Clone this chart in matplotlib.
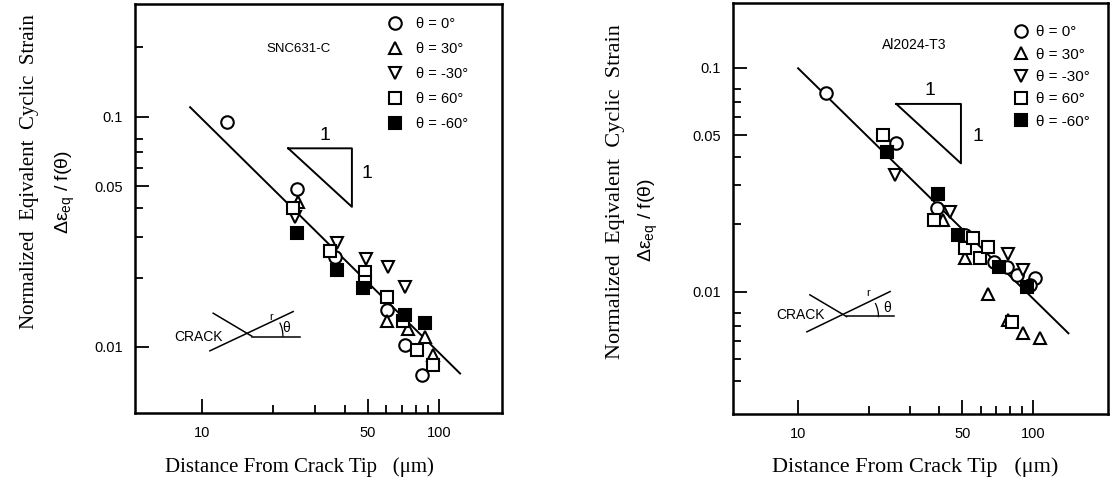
import numpy as np
import matplotlib
matplotlib.use('Agg')
import matplotlib.pyplot as plt
from matplotlib.ticker import FixedLocator, FixedFormatter, NullFormatter

# ---- SNC631-C ----
snc_x_0 = [12.7, 25.1, 36.4, 60.1, 71.9, 84.5]
snc_y_0 = [0.0946, 0.0483, 0.0246, 0.0145, 0.0102, 0.00753]
snc_x_p30 = [25.5, 60.1, 74.1, 87.3, 94.5]
snc_y_p30 = [0.0427, 0.0129, 0.0120, 0.0110, 0.0092]
snc_x_m30 = [24.7, 37.0, 49.2, 61.1, 71.9]
snc_y_m30 = [0.0366, 0.0282, 0.0242, 0.0223, 0.0182]
snc_x_p60 = [24.3, 34.7, 48.7, 48.7, 60.1, 70.6, 80.5, 94.5]
snc_y_p60 = [0.040, 0.0261, 0.0212, 0.0192, 0.0165, 0.0129, 0.0097, 0.0083]
snc_x_m60 = [25.1, 37.0, 47.9, 71.9, 87.3]
snc_y_m60 = [0.0311, 0.0215, 0.0180, 0.0137, 0.01265]
snc_fit_x = [8.9, 122.8]
snc_fit_y = [0.110, 0.00766]

# ---- Al2024-T3 ----
al_x_0 = [13.1, 26.1, 39.1, 51.5, 68.0, 77.4, 85.5, 102.4, 97.5]
al_y_0 = [0.0769, 0.0462, 0.0236, 0.0179, 0.0136, 0.0129, 0.0119, 0.0115, 0.0107]
al_x_p30 = [41.3, 51.5, 64.7, 78.7, 91.2, 107.4]
al_y_p30 = [0.0209, 0.0141, 0.0098, 0.00748, 0.00652, 0.0062]
al_x_m30 = [25.9, 44.5, 78.7, 91.2]
al_y_m30 = [0.0332, 0.0228, 0.0148, 0.0125]
al_x_p60 = [23.1, 37.8, 51.5, 55.8, 59.7, 64.7, 81.5]
al_y_p60 = [0.0501, 0.0209, 0.0156, 0.0173, 0.0141, 0.0159, 0.00734]
al_x_m60 = [23.9, 39.3, 48.2, 71.5, 94.2]
al_y_m60 = [0.0422, 0.0272, 0.0179, 0.0129, 0.0105]
al_fit_x = [10.0, 141.8]
al_fit_y = [0.0994, 0.00652]

labels = ['θ = 0°', 'θ = 30°', 'θ = -30°', 'θ = 60°', 'θ = -60°']
markers = ['o', '^', 'v', 's', 's']
faces = ['white', 'white', 'white', 'white', 'black']

x_major = [10, 50, 100]
x_minor = [20, 30, 40, 60, 70, 80, 90]
y_major = [0.01, 0.05, 0.1]
y_labels = ['0.01', '0.05', '0.1']

serif = ['Liberation Serif', 'DejaVu Serif']
sans = ['Liberation Sans', 'DejaVu Sans']
plt.rcParams['font.family'] = sans
plt.rcParams['mathtext.fontset'] = 'custom'
plt.rcParams['mathtext.rm'] = 'Liberation Sans'


def setup_axes(ax, xlim, ylim, y_minor):
    ax.set_xscale('log')
    ax.set_yscale('log')
    ax.set_xlim(*xlim)
    ax.set_ylim(*ylim)
    ax.xaxis.set_major_locator(FixedLocator(x_major))
    ax.xaxis.set_major_formatter(FixedFormatter([str(v) for v in x_major]))
    ax.xaxis.set_minor_locator(FixedLocator(x_minor))
    ax.xaxis.set_minor_formatter(NullFormatter())
    ax.yaxis.set_major_locator(FixedLocator(y_major))
    ax.yaxis.set_major_formatter(FixedFormatter(y_labels))
    ax.yaxis.set_minor_locator(FixedLocator(y_minor))
    ax.yaxis.set_minor_formatter(NullFormatter())
    ax.tick_params(which='both', direction='in', top=False, right=False,
                   width=1.3, labelsize=10.5, pad=9)
    ax.tick_params(which='major', length=10)
    ax.tick_params(which='minor', length=6)
    for s in ax.spines.values():
        s.set_linewidth(1.8)


def draw_panel(ax, xs, ys, fit_x, fit_y):
    ax.plot(fit_x, fit_y, color='black', lw=1.4, zorder=2)
    for x, y, m, fc, lab in zip(xs, ys, markers, faces, labels):
        ax.plot(x, y, linestyle='none', marker=m, ms=9, mfc=fc, mec='black',
                mew=1.5, label=lab, zorder=3)


def slope_triangle(ax, x0, x1, y0, y1, top_lab, side_lab):
    ax.plot([x0, x1, x1, x0], [y0, y0, y1, y0], color='black', lw=1.4)
    ax.text(top_lab[0], top_lab[1], '1', fontsize=14, ha='center', va='center')
    ax.text(side_lab[0], side_lab[1], '1', fontsize=14, ha='center', va='center')


def crack_sketch(ax, crack, ray, horiz, txt, r_pos, th_pos):
    t = ax.transAxes
    ax.plot(*zip(*crack), color='black', lw=1.1, transform=t)
    ax.plot(*zip(*ray), color='black', lw=1.1, transform=t)
    ax.plot(*zip(*horiz), color='black', lw=1.1, transform=t)
    # small angle arc at the tip
    tip = crack[1]
    ang = np.linspace(0, 25, 10) * np.pi / 180
    ax.plot(tip[0] + 0.085 * np.cos(ang), tip[1] + 0.075 * np.sin(ang),
            color='black', lw=0.9, transform=t)
    ax.text(txt[0], txt[1], 'CRACK', fontsize=10, ha='center', va='center', transform=t)
    ax.text(r_pos[0], r_pos[1], 'r', fontsize=8, ha='center', va='center', transform=t)
    ax.text(th_pos[0], th_pos[1], 'θ', fontsize=10, ha='center', va='center', transform=t)


fig = plt.figure(figsize=(11.15, 4.86), dpi=100)
ax1 = fig.add_axes([0.1211, 0.1502, 0.3291, 0.8416])
ax2 = fig.add_axes([0.6574, 0.1481, 0.3363, 0.8457])

setup_axes(ax1, (5.21, 184.5), (0.00516, 0.309),
           [0.02, 0.03, 0.04, 0.06, 0.07, 0.08, 0.2])
setup_axes(ax2, (5.28, 209), (0.002844, 0.1944),
           [0.004, 0.005, 0.006, 0.007, 0.008, 0.02, 0.03, 0.04, 0.06, 0.07, 0.08])

draw_panel(ax1, [snc_x_0, snc_x_p30, snc_x_m30, snc_x_p60, snc_x_m60],
           [snc_y_0, snc_y_p30, snc_y_m30, snc_y_p60, snc_y_m60], snc_fit_x, snc_fit_y)
draw_panel(ax2, [al_x_0, al_x_p30, al_x_m30, al_x_p60, al_x_m60],
           [al_y_0, al_y_p30, al_y_m30, al_y_p60, al_y_m60], al_fit_x, al_fit_y)

ax1.legend(loc='upper left', bbox_to_anchor=(0.689, 0.968), frameon=False,
           fontsize=10.5, handlelength=1.0, handletextpad=0.9, labelspacing=0.75,
           borderpad=0, borderaxespad=0)
ax2.legend(loc='upper left', bbox_to_anchor=(0.747, 0.946), frameon=False,
           fontsize=11, handlelength=1.0, handletextpad=0.5, labelspacing=0.55,
           borderpad=0, borderaxespad=0)

ax1.text(0.445, 0.89, 'SNC631-C', transform=ax1.transAxes, fontsize=9.5,
         ha='center', va='center')
ax2.text(0.483, 0.898, 'Al2024-T3', transform=ax2.transAxes, fontsize=10,
         ha='center', va='center')

slope_triangle(ax1, 23.1, 42.9, 0.0729, 0.0406, (33.0, 0.0833), (49.5, 0.0568))
slope_triangle(ax2, 26.2, 49.4, 0.0689, 0.0374, (36.5, 0.0795), (58.1, 0.0492))

crack_sketch(ax1, [(0.213, 0.244), (0.318, 0.188)], [(0.204, 0.152), (0.431, 0.248)],
             [(0.318, 0.187), (0.450, 0.187)], (0.172, 0.186), (0.372, 0.235), (0.413, 0.207))
crack_sketch(ax2, [(0.205, 0.290), (0.303, 0.237)], [(0.197, 0.200), (0.419, 0.298)],
             [(0.303, 0.238), (0.429, 0.238)], (0.179, 0.241), (0.360, 0.294), (0.410, 0.257))

# axis titles
fig.text(0.0269, 0.646, 'Normalized  Eqivalent  Cyclic  Strain', rotation=90,
         ha='center', va='center', fontsize=15, family=serif)
fig.text(0.0583, 0.605, r'Δε$_{\mathregular{eq}}$ / f(θ)', rotation=90,
         ha='center', va='center', fontsize=14)
fig.text(0.5516, 0.605, 'Normalized  Eqivalent  Cyclic  Strain', rotation=90,
         ha='center', va='center', fontsize=16, family=serif)
fig.text(0.581, 0.547, r'Δε$_{\mathregular{eq}}$ / f(θ)', rotation=90,
         ha='center', va='center', fontsize=14)
fig.text(0.269, 0.039, 'Distance From Crack Tip   (μm)', ha='center', va='center',
         fontsize=15, family=serif)
fig.text(0.8206, 0.039, 'Distance From Crack Tip   (μm)', ha='center', va='center',
         fontsize=16, family=serif)

fig.savefig('out.png', dpi=100)
